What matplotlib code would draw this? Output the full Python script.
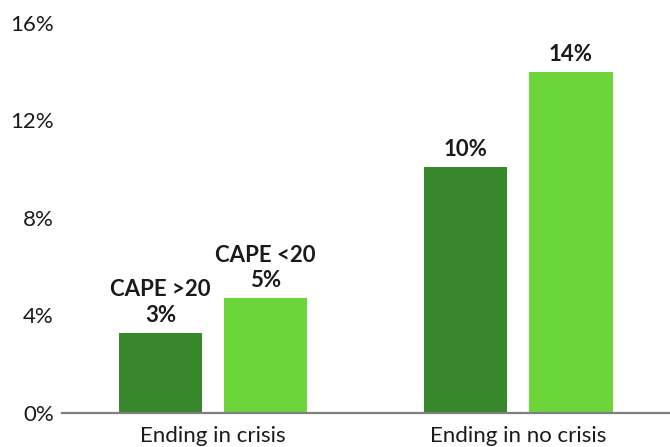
import matplotlib
matplotlib.use("Agg")
import matplotlib.pyplot as plt
import numpy as np

categories = ["Ending in crisis", "Ending in no crisis"]
series_names = ["CAPE >20", "CAPE <20"]
cape_above_20 = [3.3, 10.1]
cape_below_20 = [4.7, 14.0]
y_ticks = [0, 4, 8, 12, 16]

plt.rcParams["font.family"] = ["Lato", "DejaVu Sans"]

dark_green = "#37872b"
light_green = "#6cd53a"
text_color = "#1a1a1a"

fig = plt.figure(figsize=(6.7, 4.47), dpi=100)
ax = fig.add_axes([0.0925, 0.076, 0.9075, 0.873])

x = np.arange(len(categories))
width = 0.272
offset = 0.172

bars_hi = ax.bar(x - offset, cape_above_20, width, color=dark_green, zorder=2)
bars_lo = ax.bar(x + offset, cape_below_20, width, color=light_green, zorder=2)

ax.set_xlim(-0.494, 1.496)
ax.set_ylim(0, 16)
ax.set_yticks(y_ticks)
ax.set_yticklabels([f"{t}%" for t in y_ticks])
ax.set_xticks(x)
ax.set_xticklabels(categories)

for side in ["top", "right", "left"]:
    ax.spines[side].set_visible(False)
ax.spines["bottom"].set_color("#7f7f7f")
ax.spines["bottom"].set_linewidth(1.6)
ax.spines["bottom"].set_zorder(3)

ax.tick_params(axis="y", length=0, pad=6, labelsize=16, labelcolor=text_color)
ax.tick_params(axis="x", length=0, pad=9, labelsize=16, labelcolor=text_color)

# value labels; the first group also names its series
for bars, name in zip([bars_hi, bars_lo], series_names):
    for i, bar in enumerate(bars):
        v = bar.get_height()
        label = f"{v:.0f}%"
        if i == 0:
            label = f"{name}\n{label}"
        ax.annotate(label, (bar.get_x() + bar.get_width() / 2, v),
                    xytext=(0, 5), textcoords="offset points",
                    ha="center", va="bottom", fontsize=16,
                    fontweight="bold", color=text_color, linespacing=1.25)

fig.savefig("out.png", dpi=100)
